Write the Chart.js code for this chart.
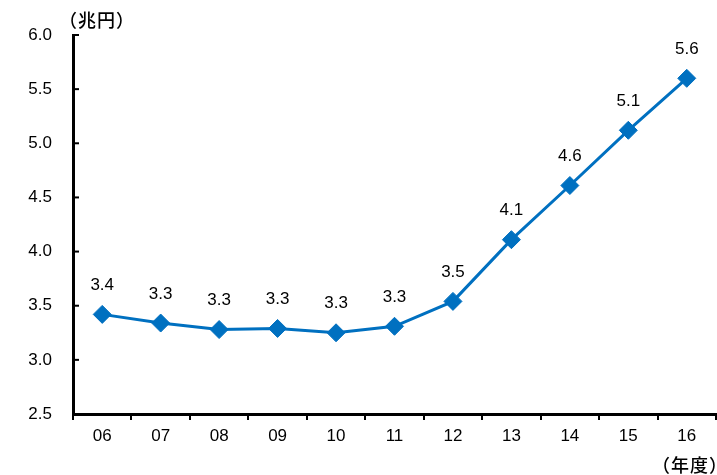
<!DOCTYPE html>
<html>
<head>
<meta charset="utf-8">
<script src="https://cdn.jsdelivr.net/npm/chart.js@4/dist/chart.umd.min.js"></script>
<style>
    html, body { margin: 0; padding: 0; background: #fff; overflow: hidden; }
    #wrap { position: relative; width: 717px; height: 475px; overflow: hidden; }
    canvas { display: block; }
    .note { position: absolute; font-family: "Noto Sans CJK JP", sans-serif; font-size: 18px; font-weight: 500; letter-spacing: 1px; color: #000; line-height: 1; white-space: nowrap; }
</style>
</head>
<body>
<div id="wrap">
    <canvas id="chart" width="717" height="475"></canvas>
    <div class="note" style="left:59px; top:10px;">（兆円）</div>
    <div class="note" style="left:652px; top:455px;">（年度）</div>
</div>
<script>
const years = ['06', '07', '08', '09', '10', '11', '12', '13', '14', '15', '16'];
const amounts = [3.42, 3.34, 3.28, 3.29, 3.25, 3.31, 3.54, 4.11, 4.61, 5.12, 5.60];
const yTicks = [2.5, 3.0, 3.5, 4.0, 4.5, 5.0, 5.5, 6.0];

const lineColor = '#0070C0';
const numFont = '"Liberation Sans", Arial, sans-serif';

// value labels above each marker
const valueLabels = {
    id: 'valueLabels',
    afterDatasetsDraw(chart) {
        const ctx = chart.ctx;
        const meta = chart.getDatasetMeta(0);
        ctx.save();
        ctx.font = '17px ' + numFont;
        ctx.fillStyle = '#000';
        ctx.textAlign = 'center';
        ctx.textBaseline = 'middle';
        meta.data.forEach((pt, i) => {
            ctx.fillText(amounts[i].toFixed(1), pt.x, pt.y - 29);
        });
        ctx.restore();
    }
};

// small inward tick marks on the y axis
const innerTicks = {
    id: 'innerTicks',
    afterDraw(chart) {
        const ctx = chart.ctx;
        const y = chart.scales.y;
        const left = chart.chartArea.left;
        ctx.save();
        ctx.strokeStyle = '#000';
        ctx.lineWidth = 2;
        yTicks.forEach(v => {
            const py = y.getPixelForValue(v);
            ctx.beginPath();
            ctx.moveTo(left, py);
            ctx.lineTo(left + 6, py);
            ctx.stroke();
        });
        ctx.restore();
    }
};

new Chart(document.getElementById('chart').getContext('2d'), {
    type: 'line',
    data: {
        labels: years,
        datasets: [{
            data: amounts,
            borderColor: lineColor,
            backgroundColor: lineColor,
            borderWidth: 3,
            pointStyle: 'rectRot',
            pointRadius: 9,
            pointBorderWidth: 1,
            pointHoverRadius: 9,
            tension: 0
        }]
    },
    options: {
        responsive: false,
        animation: false,
        layout: { autoPadding: false, padding: { top: 35, right: 1, left: 0, bottom: 0 } },
        plugins: {
            legend: { display: false },
            tooltip: { enabled: false }
        },
        scales: {
            x: {
                offset: true,
                grid: {
                    offset: true,
                    drawOnChartArea: false,
                    color: '#000',
                    lineWidth: 2,
                    tickLength: 6
                },
                border: { display: true, color: '#000', width: 3 },
                ticks: {
                    color: '#000',
                    font: { family: numFont, size: 17 },
                    padding: 6,
                    maxRotation: 0
                },
                afterFit(scale) {
                    scale.height = 61;
                    scale.paddingLeft = 0;
                    scale.paddingRight = 0;
                }
            },
            y: {
                min: 2.5,
                max: 6.0,
                grid: { display: true, drawOnChartArea: false, drawTicks: false },
                border: { display: true, color: '#000', width: 3 },
                ticks: {
                    stepSize: 0.5,
                    color: '#000',
                    font: { family: numFont, size: 17 },
                    padding: 21,
                    callback: v => v.toFixed(1)
                },
                afterFit(scale) {
                    scale.width = 73;
                    scale.paddingTop = 0;
                    scale.paddingBottom = 0;
                }
            }
        }
    },
    plugins: [valueLabels, innerTicks]
});
</script>
</body>
</html>
